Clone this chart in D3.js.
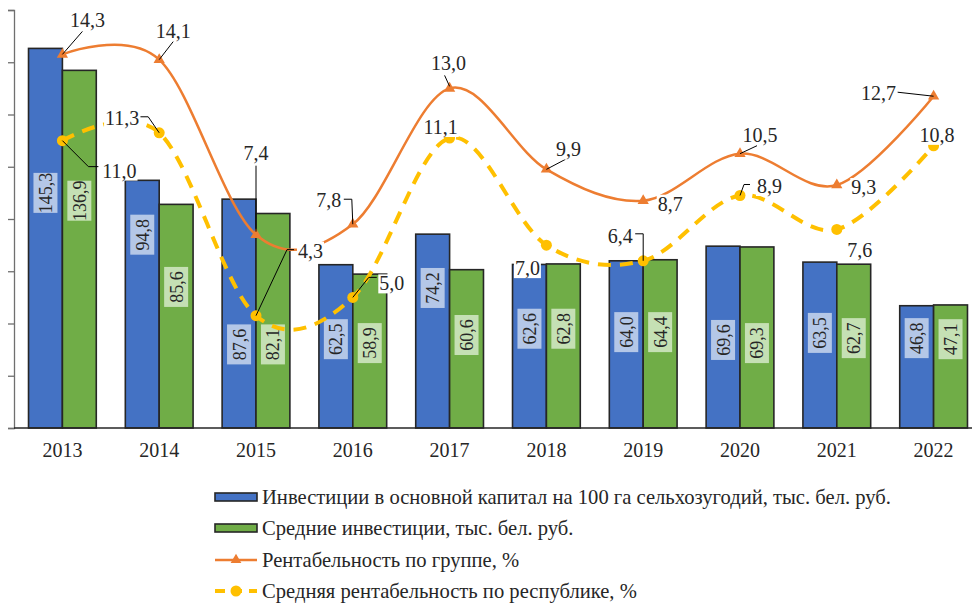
<!DOCTYPE html>
<html>
<head>
<meta charset="utf-8">
<script src="https://cdn.jsdelivr.net/npm/d3@7"></script>
<style>
  body { margin: 0; background: #fff; }
  svg { display: block; font-family: "Liberation Serif", "Times New Roman", serif; }
</style>
</head>
<body>
<svg id="chart" width="972" height="603"></svg>
<script>
// data
const years = ['2013', '2014', '2015', '2016', '2017', '2018', '2019', '2020', '2021', '2022']
const investGroup = [145.3, 94.8, 87.6, 62.5, 74.2, 62.6, 64.0, 69.6, 63.5, 46.8]
const investAvg = [136.9, 85.6, 82.1, 58.9, 60.6, 62.8, 64.4, 69.3, 62.7, 47.1]
const profitGroup = [14.3, 14.1, 7.4, 7.8, 13.0, 9.9, 8.7, 10.5, 9.3, 12.7]
const profitAvg = [11.0, 11.3, 4.3, 5.0, 11.1, 7.0, 6.4, 8.9, 7.6, 10.8]
const legendNames = [
  'Инвестиции в основной капитал на 100 га сельхозугодий, тыс. бел. руб.',
  'Средние инвестиции, тыс. бел. руб.',
  'Рентабельность по группе, %',
  'Средняя рентабельность по республике, %'
]

// layout (manual label placement, as in the original)
const barLabelAtA = [90, 74, 32, 34, 53.6, 38, 36.7, 33.7, 36.4, 34.4]
const barLabelAtB = [87, 54, 32, 32.5, 35.6, 38, 36.7, 32.5, 34.4, 34]
// text offset [dx, dy] from the marker, leader points relative to the marker
const orangeLabelOff = [[25, -27], [14, -22], [0, -75], [-24, -17], [-1, -18], [22, -13], [27, 10], [20, -12], [27, 9], [-55, 4]]
const orangeLeaders = [[[0, 0], [20, -23]], [[0, 0], [14, -18]], [[0, -3], [0, -69]], [[0, 0], [-1, -25], [-9, -25]],
  [[0, -2], [-5, -13]], [[0, 0], [19, -10]], null, [[0, 0], [17, -8]], null, [[0, 0], [-36, -4]]]
const yellowLabelOff = [[57, 37], [-37, -8], [54.5, -58], [39, -7], [-9, -4], [-19, 30], [-23, -18], [29.5, -2.5], [23, 28], [3.5, -4]]
const yellowLeaders = [[[0, 0], [26, 26], [36, 26]], [[0, 0], [-11, -16], [-19, -16]], [[0, 0], [31, -66], [38, -66]],
  [[0, 0], [16, -20], [24, -20]], null, null, [[0, 0], [0, -27], [-8, -27]], [[0, 0], [4, -11], [10, -11]], null, null]

const blue = '#4472C4'
const green = '#70AD47'
const orange = '#ED7D31'
const yellow = '#FFC000'
const edge = '#262626'

const plotLeft = 14
const plotRight = 982
const plotTop = 10
const plotBottom = 428

const svg = d3.select('svg#chart')

const x = d3.scaleBand().domain(years).range([plotLeft, plotRight]).paddingInner(0.3).paddingOuter(0.15)
const xs = d3.scaleBand().domain([0, 1]).range([0, x.bandwidth()])
const yBar = d3.scaleLinear().domain([0, 160]).range([plotBottom, plotTop])
const yLine = d3.scaleLinear().domain([0, 16]).range([plotBottom, plotTop])
const cx = (d) => x(d) + x.bandwidth() / 2

// left axis: ticks only
svg.append('g')
  .attr('transform', `translate(${plotLeft},0)`)
  .call(d3.axisLeft(yBar).tickValues(d3.range(0, 161, 20)).tickSize(6).tickFormat(''))
  .call(g => g.selectAll('path, line').attr('stroke', '#6f6f6f').attr('stroke-width', 1.3))

// bars
const series = [investGroup, investAvg]
const fills = [blue, green]
series.forEach((vals, s) => {
  svg.append('g').selectAll('rect').data(years).enter().append('rect')
    .attr('x', (d) => x(d) + xs(s))
    .attr('y', (d, i) => yBar(vals[i]))
    .attr('width', xs.bandwidth())
    .attr('height', (d, i) => yBar(0) - yBar(vals[i]))
    .attr('fill', fills[s])
    .attr('stroke', edge)
    .attr('stroke-width', 1.6)
})

// bottom axis line and years
svg.append('line')
  .attr('x1', plotLeft).attr('x2', 972).attr('y1', plotBottom).attr('y2', plotBottom)
  .attr('stroke', edge).attr('stroke-width', 1.5)
svg.append('g').selectAll('text').data(years).enter().append('text')
  .attr('x', cx).attr('y', 457)
  .attr('text-anchor', 'middle').attr('font-size', 20).attr('fill', '#262626')
  .text((d) => d)

// bar value labels, rotated, on light boxes
const fmt = (v) => v.toFixed(1).replace('.', ',')
const labelAt = [barLabelAtA, barLabelAtB]
const labelFills = ['#B4C7E7', '#C5E0B4']
series.forEach((vals, s) => {
  const g = svg.append('g').selectAll('g').data(years).enter().append('g')
    .attr('transform', (d, i) => `translate(${x(d) + xs(s) + xs.bandwidth() / 2},${yBar(labelAt[s][i])}) rotate(-90)`)
  g.append('rect')
    .attr('x', -20).attr('y', -12).attr('width', 40).attr('height', 24)
    .attr('fill', labelFills[s])
  g.append('text')
    .attr('text-anchor', 'middle').attr('dy', 6.5)
    .attr('font-size', 18).attr('fill', '#262626')
    .text((d, i) => fmt(vals[i]))
})

// lines
const smooth = d3.line().curve(d3.curveCatmullRom.alpha(0))
const orangePts = years.map((d, i) => [cx(d), yLine(profitGroup[i])])
const yellowPts = years.map((d, i) => [cx(d), yLine(profitAvg[i])])

svg.append('path').attr('d', smooth(orangePts))
  .attr('fill', 'none').attr('stroke', orange).attr('stroke-width', 2.5)
svg.append('path').attr('d', smooth(yellowPts))
  .attr('fill', 'none').attr('stroke', yellow).attr('stroke-width', 4)
  .attr('stroke-dasharray', '13,9')

svg.append('g').selectAll('path').data(orangePts).enter().append('path')
  .attr('d', d3.symbol().type(d3.symbolTriangle).size(55))
  .attr('transform', (p) => `translate(${p[0]},${p[1]})`)
  .attr('fill', orange)
svg.append('g').selectAll('circle').data(yellowPts).enter().append('circle')
  .attr('cx', (p) => p[0]).attr('cy', (p) => p[1]).attr('r', 5.5)
  .attr('fill', yellow)

// line labels with leaders
function lineLabels(pts, vals, offs, leaders) {
  const lg = svg.append('g')
  pts.forEach((p, i) => {
    if (leaders[i]) {
      lg.append('polyline')
        .attr('points', leaders[i].map((q) => [p[0] + q[0], p[1] + q[1]].join(',')).join(' '))
        .attr('fill', 'none').attr('stroke', '#000').attr('stroke-width', 1)
    }
  })
  pts.forEach((p, i) => {
    const t = lg.append('text')
      .attr('x', p[0] + offs[i][0]).attr('y', p[1] + offs[i][1])
      .attr('text-anchor', 'middle').attr('font-size', 20).attr('fill', '#262626')
      .text(fmt(vals[i]))
    const b = t.node().getBBox()
    lg.insert('rect', () => t.node())
      .attr('x', b.x - 1).attr('y', b.y + 2).attr('width', b.width + 2).attr('height', b.height - 3)
      .attr('fill', '#fff')
  })
}
lineLabels(orangePts, profitGroup, orangeLabelOff, orangeLeaders)
lineLabels(yellowPts, profitAvg, yellowLabelOff, yellowLeaders)

// legend
const legendRows = [497, 528, 560, 591]
const lg = svg.append('g')
legendNames.forEach((name, i) => {
  const y = legendRows[i]
  if (i < 2) {
    lg.append('rect').attr('x', 215).attr('y', y - 4).attr('width', 42).attr('height', 8)
      .attr('fill', fills[i]).attr('stroke', edge).attr('stroke-width', 1.6)
  } else {
    const col = i === 2 ? orange : yellow
    lg.append('line').attr('x1', 215).attr('x2', 257).attr('y1', y).attr('y2', y)
      .attr('stroke', col).attr('stroke-width', i === 2 ? 2.5 : 4)
      .attr('stroke-dasharray', i === 2 ? null : '10,7')
    if (i === 2) {
      lg.append('path').attr('d', d3.symbol().type(d3.symbolTriangle).size(50))
        .attr('transform', `translate(236,${y})`).attr('fill', orange)
    } else {
      lg.append('circle').attr('cx', 236).attr('cy', y).attr('r', 5.5).attr('fill', yellow)
    }
  }
  lg.append('text').attr('x', 262).attr('y', y + 7)
    .attr('font-size', 20.6).attr('fill', '#262626')
    .text(name)
})
</script>
</body>
</html>
